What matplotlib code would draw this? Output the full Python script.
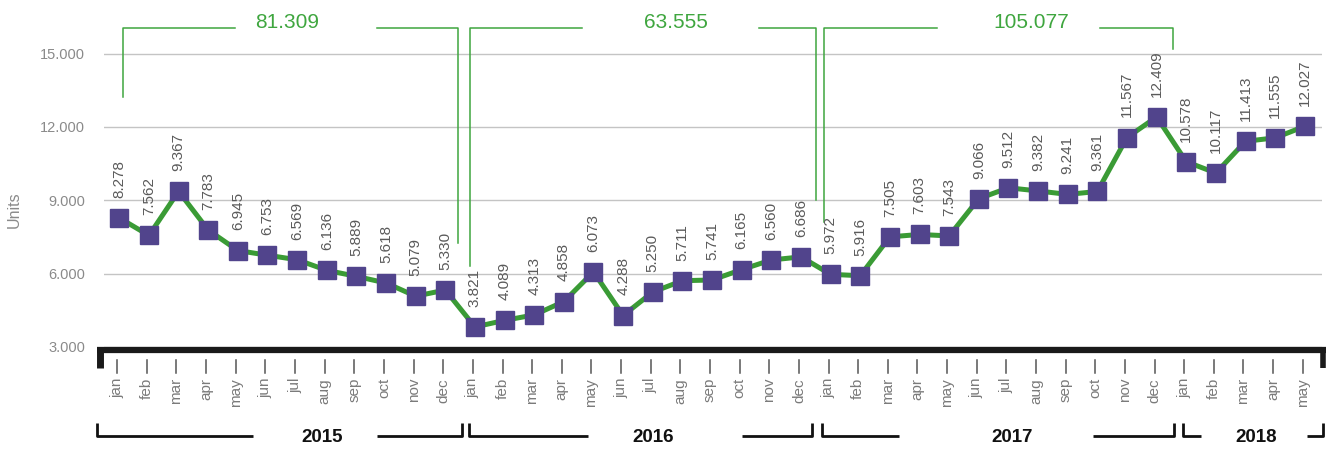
import matplotlib
matplotlib.use("Agg")
import matplotlib.pyplot as plt
from matplotlib.transforms import blended_transform_factory

months = ["jan", "feb", "mar", "apr", "may", "jun", "jul", "aug", "sep", "oct", "nov", "dec"]
years = ["2015", "2016", "2017", "2018"]
months_per_year = [12, 12, 12, 5]

units = [8278, 7562, 9367, 7783, 6945, 6753, 6569, 6136, 5889, 5618, 5079, 5330,
         3821, 4089, 4313, 4858, 6073, 4288, 5250, 5711, 5741, 6165, 6560, 6686,
         5972, 5916, 7505, 7603, 7543, 9066, 9512, 9382, 9241, 9361, 11567, 12409,
         10578, 10117, 11413, 11555, 12027]

yticks = [3000, 6000, 9000, 12000, 15000]

def dots(v):
    return f"{v:,}".replace(",", ".")

GREEN = "#3a9b35"
LGREEN = "#3fa63f"
PURPLE = "#51448c"
GRAY = "#7a7a7a"
plt.rcParams["font.family"] = ["Liberation Sans", "DejaVu Sans"]

W, H = 1332, 450
fig = plt.figure(figsize=(W / 100, H / 100), dpi=100)
ax = fig.add_axes([104 / W, (H - 347) / H, (1322 - 104) / W, 337 / H])

x = list(range(len(units)))
ax.plot(x, units, color=GREEN, lw=3.6, marker="s", ms=13, mfc=PURPLE, mec=PURPLE, zorder=3)
for i, v in enumerate(units):
    ax.annotate(dots(v), (i, v), xytext=(0, 14.5), textcoords="offset points",
                rotation=90, ha="center", va="bottom", fontsize=11, color="#5a5a5a")

ax.set_xlim(-0.516, 40.58)
ax.set_ylim(3000, 16783)
ax.set_yticks(yticks)
ax.set_yticklabels([dots(t) for t in yticks], color="#8a8a8a", fontsize=10.5)
ax.tick_params(axis="y", length=0, pad=13.5)
ax.set_xticks([])
for t in yticks:
    ax.axhline(t, color="#c4c4c4", lw=1, zorder=1)
for s in ax.spines.values():
    s.set_visible(False)

def py(px):
    return 1 - px / H

fig.text(14 / W, py(210), "Units", rotation=90, ha="center", va="center",
         fontsize=11.5, color="#8a8a8a")

tr = blended_transform_factory(ax.transData, fig.transFigure)

# base bar with end caps
fig.add_artist(plt.Line2D([97 / W, 1326 / W], [py(350), py(350)], color="#1a1a1a", lw=4.5,
                          solid_capstyle="butt", transform=fig.transFigure))
fig.add_artist(plt.Line2D([100 / W, 100 / W], [py(347), py(368)], color="#1a1a1a", lw=5,
                          solid_capstyle="butt", transform=fig.transFigure))
fig.add_artist(plt.Line2D([1323 / W, 1323 / W], [py(347), py(368)], color="#1a1a1a", lw=4,
                          solid_capstyle="butt", transform=fig.transFigure))

# month ticks and labels
labels = []
for n in months_per_year:
    labels += months[:n]
for i, m in enumerate(labels):
    ax.plot([i - 0.07, i - 0.07], [py(360), py(373)], color="#555555", lw=1.1,
            transform=tr, clip_on=False)
    ax.text(i - 0.07, py(378), m, transform=tr, rotation=90, ha="center", va="top",
            fontsize=11, color=GRAY)

# year brackets below
year_brackets = [(-0.75, 11.56, 4.51, 8.69, 6.84), (11.80, 23.37, 15.81, 21.01, 18.0),
                 (23.71, 35.58, 26.31, 32.85, 30.12), (35.89, 40.61, 36.49, 40.06, 38.37)]
for yr, (a, b, g1, g2, c) in zip(years, year_brackets):
    kw = dict(color="#111111", lw=2, transform=tr, clip_on=False, solid_capstyle="butt")
    ax.plot([a, a, g1], [py(423), py(436), py(436)], **kw)
    ax.plot([g2, b, b], [py(436), py(436), py(423)], **kw)
    ax.text(c, py(437), yr, transform=tr, ha="center", va="center", fontsize=13.5,
            fontweight="bold", color="#111111")

# yearly totals on top
starts = [0, 12, 24]
totals = [sum(units[s:s + 12]) for s in starts]
top_brackets = [(0.115, 11.43, 97, 243, 3.91, 8.69, 5.67),
                (11.83, 23.50, 266, 200, 15.61, 21.58, 18.77),
                (23.78, 35.54, 222, 49, 27.59, 33.09, 30.76)]
for tot, (a, b, ya, yb, g1, g2, c) in zip(totals, top_brackets):
    kw = dict(color=LGREEN, lw=1.1, transform=tr, clip_on=False)
    ax.plot([a, a, g1], [py(ya), py(28), py(28)], **kw)
    ax.plot([g2, b, b], [py(28), py(28), py(yb)], **kw)
    ax.text(c, py(22.5), dots(tot), transform=tr, ha="center", va="center",
            fontsize=15, color=LGREEN)

fig.savefig("out.png", dpi=100)
